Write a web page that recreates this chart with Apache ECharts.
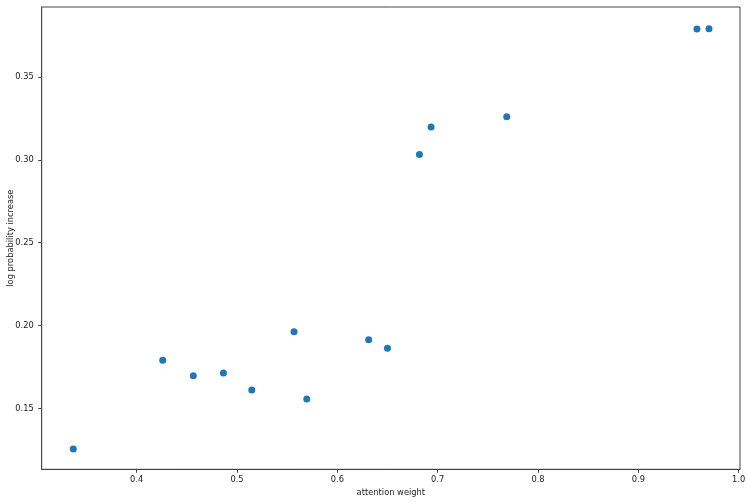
<!DOCTYPE html>
<html>
<head>
<meta charset="utf-8">
<script src="https://cdn.jsdelivr.net/npm/echarts@6/dist/echarts.min.js"></script>
<style>html,body{margin:0;padding:0;background:#fff}#c{width:747px;height:502px}</style>
</head>
<body>
<div id="c"></div>
<script>
var attentionWeight = [0.3368, 0.4259, 0.4564, 0.4864, 0.5147, 0.5568, 0.5695, 0.6312, 0.6499, 0.6818, 0.6934, 0.7688, 0.9584, 0.9704];
var logProbIncrease = [0.1254, 0.1790, 0.1697, 0.1713, 0.1610, 0.1962, 0.1556, 0.1914, 0.1863, 0.3032, 0.3199, 0.3260, 0.3790, 0.3792];
var xTicks = [0.4, 0.5, 0.6, 0.7, 0.8, 0.9, 1.0];
var yTicks = [0.15, 0.20, 0.25, 0.30, 0.35];

var points = attentionWeight.map(function (x, i) { return [x, logProbIncrease[i]]; });
var font = 'DejaVu Sans';
var chart = echarts.init(document.getElementById('c'), null, {renderer: 'canvas'});
chart.setOption({
  animation: false,
  backgroundColor: '#fff',
  grid: {left: 41.7, right: 7, top: 7, bottom: 32.7, show: true, borderColor: '#444', borderWidth: 1,
    containLabel: false, outerBoundsMode: 'none'},
  xAxis: {
    type: 'value', min: 0.3053, max: 1.0013,
    name: 'attention weight', nameLocation: 'middle', nameGap: 19.5, nameMoveOverlap: false,
    nameTextStyle: {fontFamily: font, fontSize: 8.3, color: '#222'},
    axisLine: {show: true, lineStyle: {color: '#444', width: 1}},
    axisTick: {show: true, length: 3.5, inside: false, customValues: xTicks, lineStyle: {color: '#444'}},
    axisLabel: {customValues: xTicks, margin: 7, fontFamily: font, fontSize: 8.3, color: '#222',
      formatter: function (v) { return v.toFixed(1); }},
    splitLine: {show: false}
  },
  yAxis: {
    type: 'value', min: 0.1132, max: 0.3923,
    name: 'log probability increase', nameLocation: 'middle', nameGap: 26.5, nameRotate: 90, nameMoveOverlap: false,
    nameTextStyle: {fontFamily: font, fontSize: 8.3, color: '#222'},
    axisLine: {show: true, lineStyle: {color: '#444', width: 1}},
    axisTick: {show: true, length: 3.5, inside: false, customValues: yTicks, lineStyle: {color: '#444'}},
    axisLabel: {customValues: yTicks, margin: 8, fontFamily: font, fontSize: 8.3, color: '#222',
      formatter: function (v) { return v.toFixed(2); }},
    splitLine: {show: false}
  },
  series: [{
    type: 'scatter',
    data: points,
    symbol: 'circle',
    symbolSize: 7,
    itemStyle: {color: '#1f77b4', opacity: 1}
  }]
});
</script>
</body>
</html>
